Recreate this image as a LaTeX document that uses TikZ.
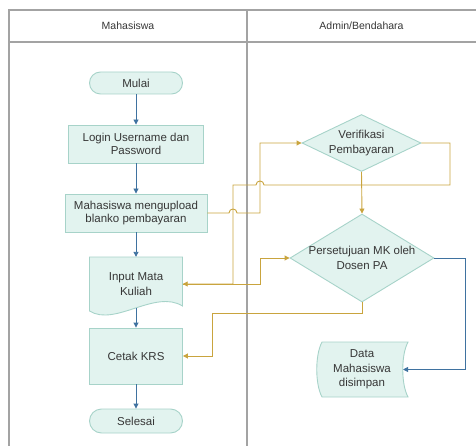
\documentclass[tikz,border=0pt]{standalone}
\usepackage{fontspec}
\setmainfont{Liberation Sans}
\usetikzlibrary{arrows.meta,shapes.geometric,calc}

\definecolor{boxfill}{HTML}{E2F3EF}
\definecolor{boxline}{HTML}{A7D3C9}
\definecolor{flowblue}{HTML}{3F72A0}
\definecolor{flowgold}{HTML}{C9A43E}
\definecolor{lanegray}{HTML}{A3A3A3}
\definecolor{ink}{HTML}{363636}

\begin{document}
\begin{tikzpicture}[x=1pt,y=-1pt,
  font=\fontsize{11.5}{14.5}\selectfont, text=ink,
  every node/.style={inner sep=0pt, align=center, text=ink},
  proc/.style={rectangle, draw=boxline, fill=boxfill, line width=0.9pt},
  decide/.style={diamond, draw=boxline, fill=boxfill, line width=0.9pt},
  plain/.style={rectangle},
  shapeline/.style={draw=boxline, fill=boxfill, line width=0.9pt},
  blueflow/.style={draw=flowblue, line width=0.9pt, -{Triangle[length=5pt,width=5pt]}},
  goldflow/.style={draw=flowgold, line width=0.9pt, -{Triangle[length=5pt,width=5pt]}},
  lane/.style={draw=lanegray, line width=1.2pt},
  header/.style={font=\fontsize{10.5}{12}\selectfont},
]
\useasboundingbox (0,0) rectangle (476,446);

% swimlane frame
\draw[lane] (9,446) -- (9,10) -- (476,10);
\draw[lane] (9,42) -- (476,42);
\draw[lane] (247,10) -- (247,446);
\node[header] (hmhs) at (128,26) {Mahasiswa};
\node[header] (hadm) at (361.5,26) {Admin/Bendahara};

% document outline (wavy bottom)
\draw[shapeline] (89.5,257) -- (182.5,257) -- (182.5,306)
  .. controls (155,289) and (115,327) .. (89.5,311) -- cycle;
% stored-data outline
\draw[shapeline] (322,342) -- (408,342) .. controls (401,355) and (401,384) .. (408,397)
  -- (322,397) .. controls (315,384) and (315,355) .. (322,342) -- cycle;

% left lane
\node[proc, minimum width=93pt, minimum height=22pt, rounded corners=11pt] (mulai) at (136,83) {Mulai};
\node[proc, minimum width=135pt, minimum height=38pt, font=\fontsize{11.5}{12.5}\selectfont] (login) at (136,144) {Login Username dan\\Password};
\node[proc, minimum width=142pt, minimum height=38pt, font=\fontsize{11.5}{13}\selectfont] (upload) at (136,213) {Mahasiswa mengupload\\blanko pembayaran};
\node[plain, minimum width=93pt, minimum height=54pt] (input) at (136,284) {Input Mata\\Kuliah};
\node[proc, minimum width=93pt, minimum height=56pt] (cetak) at (136,356) {Cetak KRS};
\node[proc, minimum width=93pt, minimum height=24pt, rounded corners=12pt] (selesai) at (136,421) {Selesai};

% right lane
\node[decide, minimum width=119pt, minimum height=57pt,
  label={center:Verifikasi\\Pembayaran}] (verif) at (361.5,143) {};
\node[decide, minimum width=144pt, minimum height=88pt,
  label={center:Persetujuan MK oleh\\Dosen PA}] (setuju) at (362,258) {};
\node[plain, minimum width=91pt, minimum height=55pt] (data) at (362,369.5) {Data\\Mahasiswa\\disimpan};

% free ends
\coordinate (inputfoot) at (136,308);
\coordinate (datain) at (403,369.5);

% main flow
\draw[blueflow] (mulai.south) -- (login.north);
\draw[blueflow] (login.south) -- (upload.north);
\draw[blueflow] (upload.south) -- (input.north);
\draw[blueflow] (inputfoot) -- (cetak.north);
\draw[blueflow] (cetak.south) -- (selesai.north);

% upload -> verification, hopping over the return line
\draw[goldflow] (upload.east) -- (229,213) .. controls (229,207.7) and (237,207.7) .. (237,213)
  -- (260,213) -- (260,143) -- (verif.west);
% verification -> course input, hopping over the upload line
\draw[goldflow] (verif.east) -- (450,143) -- (450,185) -- (264,185)
  .. controls (264,179.7) and (256,179.7) .. (256,185) -- (233,185) -- (233,284) -- (input.east);
% course input -> approval
\draw[goldflow] (input.east) -- (260,284) -- (260,258) -- (setuju.west);
% verification -> approval
\draw[goldflow] (verif.south) -- (setuju.north);
% approval -> print
\draw[goldflow] (setuju.south) -- (362,313) -- (212,313) -- (212,356) -- (cetak.east);
% approval -> stored data
\draw[blueflow] (setuju.east) -- (465,258) -- (465,369.5) -- (datain);
\end{tikzpicture}
\end{document}
